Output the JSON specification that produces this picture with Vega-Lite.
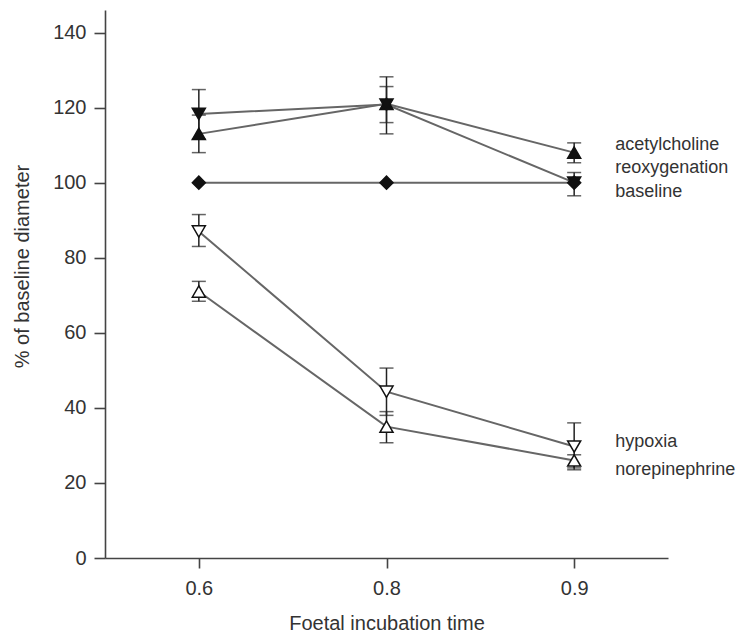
{
  "$schema": "https://vega.github.io/schema/vega-lite/v6.json",
  "width": 563,
  "height": 548,
  "autosize": "none",
  "padding": {"left": 105, "top": 10, "right": 72, "bottom": 75},
  "background": "white",
  "config": {
    "view": {"stroke": null},
    "font": "Liberation Sans",
    "axis": {
      "grid": false,
      "domainColor": "#444",
      "domainWidth": 1.6,
      "tickColor": "#444",
      "tickWidth": 1.6,
      "labelFont": "Liberation Sans",
      "labelFontSize": 20,
      "labelColor": "#333",
      "titleFont": "Liberation Sans",
      "titleFontSize": 20,
      "titleFontWeight": "normal",
      "titleColor": "#333"
    }
  },
  "datasets": {
    "series": [
      {"series": "acetylcholine", "time": "0.6", "value": 113, "lo": 108, "hi": 118},
      {"series": "acetylcholine", "time": "0.8", "value": 121, "lo": 116, "hi": 125.6},
      {"series": "acetylcholine", "time": "0.9", "value": 108, "lo": 105.3, "hi": 110.6},
      {"series": "reoxygenation", "time": "0.6", "value": 118.3, "lo": 111.6, "hi": 124.8},
      {"series": "reoxygenation", "time": "0.8", "value": 120.8, "lo": 113, "hi": 128.2},
      {"series": "reoxygenation", "time": "0.9", "value": 100, "lo": 96.5, "hi": 102.7},
      {"series": "baseline", "time": "0.6", "value": 100},
      {"series": "baseline", "time": "0.8", "value": 100},
      {"series": "baseline", "time": "0.9", "value": 100},
      {"series": "hypoxia", "time": "0.6", "value": 87, "lo": 83, "hi": 91.5},
      {"series": "hypoxia", "time": "0.8", "value": 44.3, "lo": 38, "hi": 50.6},
      {"series": "hypoxia", "time": "0.9", "value": 29.7, "lo": 23.5, "hi": 36},
      {"series": "norepinephrine", "time": "0.6", "value": 71, "lo": 68.4, "hi": 73.7},
      {"series": "norepinephrine", "time": "0.8", "value": 35, "lo": 30.7, "hi": 39},
      {"series": "norepinephrine", "time": "0.9", "value": 26, "lo": 24, "hi": 27.5}
    ],
    "labels": [
      {"label": "acetylcholine", "time": "0.9", "value": 110.1},
      {"label": "reoxygenation", "time": "0.9", "value": 104},
      {"label": "baseline", "time": "0.9", "value": 97.6},
      {"label": "hypoxia", "time": "0.9", "value": 30.9},
      {"label": "norepinephrine", "time": "0.9", "value": 23.5}
    ]
  },
  "encoding": {
    "x": {
      "field": "time",
      "type": "ordinal",
      "scale": {"type": "point", "padding": 0.5, "domain": ["0.6", "0.8", "0.9"]},
      "axis": {
        "title": "Foetal incubation time",
        "labelAngle": 0,
        "tickSize": 10,
        "labelPadding": 10,
        "titlePadding": 15
      }
    }
  },
  "layer": [
    {
      "data": {"name": "series"},
      "mark": {"type": "line", "color": "#666", "strokeWidth": 2},
      "encoding": {
        "y": {
          "field": "value",
          "type": "quantitative",
          "scale": {"domain": [0, 146], "nice": false},
          "axis": {
            "title": "% of baseline diameter",
            "values": [0, 20, 40, 60, 80, 100, 120, 140],
            "tickSize": 11,
            "labelPadding": 8,
            "titlePadding": 20,
            "titleY": 256
          }
        },
        "detail": {"field": "series"}
      }
    },
    {
      "data": {"name": "series"},
      "transform": [{"filter": "datum.lo != null"}],
      "mark": {"type": "rule", "color": "#222", "strokeWidth": 1.5},
      "encoding": {
        "y": {"field": "lo", "type": "quantitative"},
        "y2": {"field": "hi"}
      }
    },
    {
      "data": {"name": "series"},
      "transform": [{"filter": "datum.lo != null"}],
      "mark": {"type": "tick", "color": "#222", "thickness": 1.5, "size": 14},
      "encoding": {"y": {"field": "lo", "type": "quantitative"}}
    },
    {
      "data": {"name": "series"},
      "transform": [{"filter": "datum.lo != null"}],
      "mark": {"type": "tick", "color": "#222", "thickness": 1.5, "size": 14},
      "encoding": {"y": {"field": "hi", "type": "quantitative"}}
    },
    {
      "data": {"name": "series"},
      "mark": {"type": "point", "filled": true, "stroke": "#111", "strokeWidth": 1.5, "opacity": 1},
      "encoding": {
        "y": {"field": "value", "type": "quantitative"},
        "shape": {
          "field": "series",
          "type": "nominal",
          "legend": null,
          "scale": {
            "domain": ["acetylcholine", "reoxygenation", "baseline", "hypoxia", "norepinephrine"],
            "range": ["triangle-up", "triangle-down", "diamond", "triangle-down", "triangle-up"]
          }
        },
        "fill": {
          "field": "series",
          "type": "nominal",
          "legend": null,
          "scale": {
            "domain": ["acetylcholine", "reoxygenation", "baseline", "hypoxia", "norepinephrine"],
            "range": ["#111", "#111", "#111", "white", "white"]
          }
        },
        "size": {
          "field": "series",
          "type": "nominal",
          "legend": null,
          "scale": {
            "domain": ["acetylcholine", "reoxygenation", "baseline", "hypoxia", "norepinephrine"],
            "range": [170, 170, 250, 170, 170]
          }
        }
      }
    },
    {
      "data": {"name": "labels"},
      "mark": {"type": "text", "align": "left", "baseline": "middle", "dx": 41, "fontSize": 18, "color": "#333", "font": "Liberation Sans"},
      "encoding": {
        "y": {"field": "value", "type": "quantitative"},
        "text": {"field": "label"}
      }
    }
  ]
}
